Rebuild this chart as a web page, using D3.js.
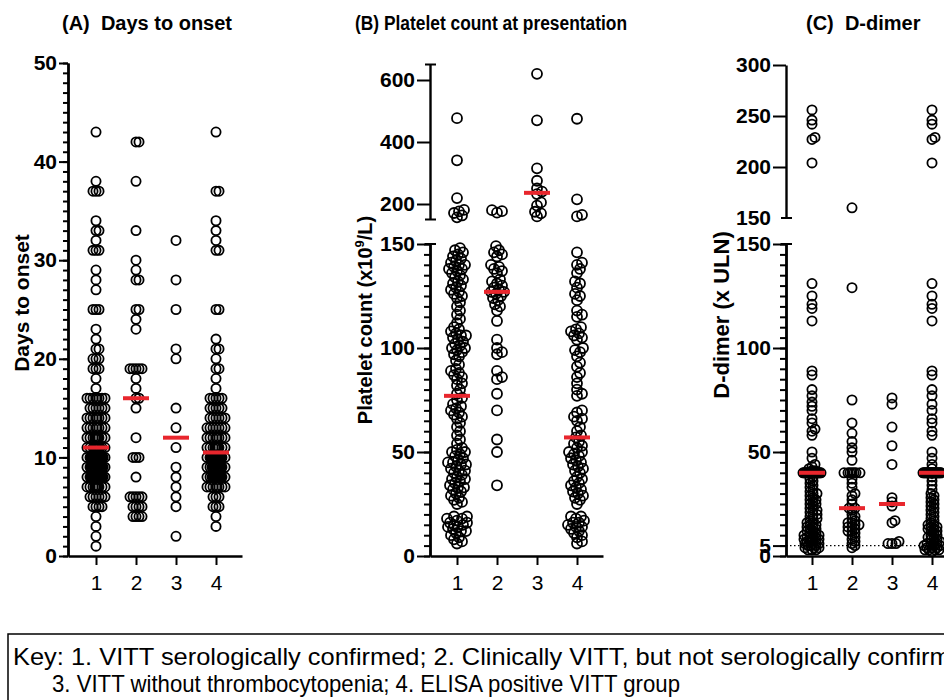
<!DOCTYPE html>
<html>
<head>
<meta charset="utf-8">
<script src="https://cdn.jsdelivr.net/npm/d3@7"></script>
<style>
  body { margin: 0; background: #fff; }
  svg { font-family: "Liberation Sans", Arial, sans-serif; }
  .axis path, .axis line { stroke: #000; }
</style>
</head>
<body>
<svg id="chart" width="944" height="700"></svg>
<script>
var groups = [1, 2, 3, 4];

// (A) days to onset
var onset1 = [43, 38, 37, 37, 37, 34, 33, 33, 32, 31, 31, 31, 29, 28, 27, 25, 25, 25, 23, 22,
  21, 21, 20, 20, 20, 19, 19, 19, 18, 17,
  16, 16, 16, 16, 16, 16, 16, 16, 15, 15, 15, 15, 15, 15, 14, 14, 14, 14, 14, 14, 14, 14,
  13, 13, 13, 13, 13, 13, 13, 13, 12, 12, 12, 12, 12, 12, 12, 12, 12, 12,
  11, 11, 11, 11, 11, 11, 11, 11, 11, 11, 11, 11,
  10, 10, 10, 10, 10, 10, 10, 10, 10, 10, 10, 10, 10, 10, 10, 10,
  9, 9, 9, 9, 9, 9, 9, 9, 9, 9, 9, 9, 9, 9, 9, 9,
  8, 8, 8, 8, 8, 8, 8, 8, 8, 8, 8, 8, 8, 8, 8, 8,
  7, 7, 7, 7, 7, 7, 7, 7, 7, 7, 6, 6, 6, 6, 6, 6, 5, 5, 5, 5, 4, 3, 2, 1];
var onset2 = [42, 42, 38, 33, 30, 29, 28, 28, 25, 25, 24, 23, 19, 19, 19, 19, 19, 18, 17, 16, 16,
  15, 12, 10, 10, 10, 8, 6, 6, 6, 6, 6, 5, 5, 5, 5, 4, 4, 4, 4];
var onset3 = [32, 28, 25, 21, 20, 15, 13, 11, 9, 8, 7, 6, 5, 2];
var onset4 = [43, 37, 37, 34, 33, 32, 31, 31, 25, 25, 22, 21, 21, 20, 19, 19, 18, 17,
  16, 16, 16, 16, 16, 15, 15, 15, 15, 15, 14, 14, 14, 14, 14, 14, 13, 13, 13, 13, 13, 13, 13,
  12, 12, 12, 12, 12, 12, 12, 12, 11, 11, 11, 11, 11, 11, 11, 11, 11, 11,
  10, 10, 10, 10, 10, 10, 10, 10, 10, 10, 10, 10, 10, 10, 10,
  9, 9, 9, 9, 9, 9, 9, 9, 9, 9, 9, 9, 9, 9,
  8, 8, 8, 8, 8, 8, 8, 8, 8, 8, 8, 8, 8, 8,
  7, 7, 7, 7, 7, 7, 7, 7, 6, 6, 6, 5, 5, 5, 4, 3];

// (B) platelet count at presentation, x10^9/L
var plt1 = [477, 341, 219, 181, 176, 171, 163, 157,
  148, 147, 146, 145, 144, 143, 142, 141, 140, 140, 139, 138, 138, 137, 136, 135,
  134, 133, 132, 131, 130, 129, 128, 127, 126, 125, 124, 122, 120, 118, 116, 114, 112, 110,
  109, 108, 107, 106, 106, 105, 104, 103, 102, 101, 100, 100, 99, 98, 97, 96, 94, 92, 90, 89, 88,
  87, 86, 85, 83, 82, 80, 78, 76, 75, 73, 72, 71, 70, 69, 68, 67, 66, 64, 62, 60,
  58, 56, 54, 52, 51, 50, 50, 49, 48, 47, 46, 45, 45, 44, 44, 43,
  42, 41, 41, 40, 39, 38, 37, 37, 36, 35, 34, 33, 33, 32, 31, 30, 29, 28, 27, 26, 25,
  19, 19, 18, 18, 17, 16, 16, 15, 15, 14, 14, 13, 12, 12, 11, 10, 9, 8, 7, 6];
var plt2 = [180, 177, 172, 149, 147, 146, 145, 144, 140, 139, 138, 137, 136, 133, 132, 131, 130,
  129, 128, 127, 127, 126, 125, 124, 123, 121, 120, 118, 113, 104, 100, 98, 97, 89, 86, 85,
  78, 70, 56, 50, 34];
var plt3 = [620, 470, 315, 275, 250, 240, 232, 205, 195, 175, 170, 160];
var plt4 = [475, 215, 165, 160,
  146, 141, 140, 138, 136, 132, 131, 129, 126, 125, 123, 118, 116, 115, 110, 109, 108, 107,
  106, 105, 104, 100, 99, 98, 96, 93, 91, 88, 86, 83, 80, 78, 77, 70, 69, 67, 66, 65, 62, 60, 58,
  57, 55, 54, 53, 52, 50, 50, 49, 48, 47, 46, 45, 44, 43, 42, 41, 40, 38, 37, 36, 35, 34, 33,
  32, 31, 30, 29, 28, 27, 25, 19, 19, 18, 17, 16, 16, 15, 14, 14, 13, 12, 11, 10, 9, 7, 6];

// (C) D-dimer, x ULN
var dd1 = [256, 246, 242, 229, 227, 204,
  131, 125, 121, 119, 113, 89, 87, 80, 77, 74, 72, 70, 66, 64, 61, 60, 58, 50, 47, 44, 43, 42, 41, 41,
  40, 40, 40, 40, 40, 40, 40, 40, 40, 40, 40, 40, 40, 40, 40, 40, 40, 40,
  40, 40, 40, 40, 40, 40, 40, 40, 40, 40, 40, 40, 40, 40, 40, 40, 40, 40,
  38, 37, 36, 35, 34, 33, 32, 31, 30, 30, 29, 28, 27, 27, 26, 25, 25, 24, 23, 22, 22, 21,
  20, 20, 19, 18, 18, 17, 16, 16, 15, 15, 14, 14, 13, 13, 12, 12, 11, 11, 10, 10, 10,
  9, 9, 9, 8, 8, 8, 7, 7, 7, 6, 6, 6, 5, 5, 5, 4, 4, 4, 3, 3, 3];
var dd2 = [160, 129, 75, 64, 59, 55, 52, 50, 46, 40, 40, 40, 40, 40, 40, 40,
  37, 35, 33, 30, 29, 27, 25, 23, 23, 22, 20, 19, 18, 17, 16, 16, 15, 15, 14, 14, 13, 12, 12,
  11, 10, 9, 8, 7, 6, 5, 4];
var dd3 = [76, 73, 62, 53, 44, 28, 26, 24, 17, 16, 7, 6, 6, 6];
var dd4 = [256, 246, 242, 229, 227, 204,
  131, 125, 121, 119, 113, 89, 87, 80, 77, 73, 70, 66, 64, 60, 58, 50, 47, 44, 42,
  40, 40, 40, 40, 40, 40, 40, 40, 40, 40, 40, 40, 40, 40,
  40, 40, 40, 40, 40, 40, 40, 40, 40, 40, 40, 40, 40, 40,
  38, 36, 34, 32, 30, 29, 28, 27, 26, 25, 24, 23, 22, 21, 20, 19, 18, 17, 16, 15, 15,
  14, 14, 13, 13, 12, 12, 11, 10, 10, 9, 9, 8, 8, 7, 7, 6, 6, 6, 5, 5, 5, 4, 4, 4, 3, 3, 3, 3, 2];

var ticksA = [0, 10, 20, 30, 40, 50];
var ticksBUp = [200, 400, 600];
var ticksBLo = [0, 50, 100, 150];
var ticksCUp = [150, 200, 250, 300];
var ticksCLo = [0, 5, 50, 100, 150];

var keyLines = ["Key: 1. VITT serologically confirmed; 2. Clinically VITT, but not serologically confirmed",
  "3. VITT without thrombocytopenia; 4. ELISA positive VITT group"];

var svg = d3.select("#chart");
var base = 556;

// scales
var xA = d3.scaleLinear().domain([0.3, 4.65]).range([68, 242]);
var xB = d3.scaleLinear().domain([0.325, 4.65]).range([430, 603]);
var xC = d3.scaleLinear().domain([0.35, 4.7]).range([786, 960]);

var yA = d3.scaleLinear().domain([0, 50]).range([base, 63]);
var yBUp = d3.scaleLinear().domain([150, 650]).range([219.5, 64.5]);
var yBLo = d3.scaleLinear().domain([0, 150]).range([base, 244]);
var yCUp = d3.scaleLinear().domain([150, 300]).range([218, 65]);
var yCLo = d3.scaleLinear().domain([0, 150]).range([base, 244]);

function yB(v) { return v >= 150 ? yBUp(v) : yBLo(v); }
function yC(v) { return v >= 150 ? yCUp(v) : yCLo(v); }

// Prism-like scatter: spread close points sideways
function swarm(vals, cx, yf, minD, maxOff) {
  var placed = [];
  var offs = [0];
  for (var k = 1; k <= maxOff; k++) offs.push(k, -k);
  vals.slice().sort(d3.ascending).forEach(function(v) {
    var py = yf(v);
    var near = placed.filter(function(p) { return Math.abs(p.y - py) < minD; });
    var best = 0, bestD = -1;
    for (var j = 0; j < offs.length; j++) {
      var md = Infinity;
      near.forEach(function(p) {
        var d = Math.hypot(p.x - cx - offs[j], p.y - py);
        if (d < md) md = d;
      });
      if (md >= minD) { best = offs[j]; break; }
      if (md > bestD) { bestD = md; best = offs[j]; }
    }
    placed.push({ x: cx + best, y: py });
  });
  return placed;
}

function drawDots(sets, x, yf, o) {
  var g = svg.append("g");
  sets.forEach(function(vals, i) {
    var cx = x(groups[i]);
    g.append("g").selectAll("circle")
      .data(swarm(vals, cx, yf, o.minD, o.maxOff))
      .enter().append("circle")
      .attr("cx", function(d) { return d.x; })
      .attr("cy", function(d) { return d.y; })
      .attr("r", o.r)
      .attr("fill", "none")
      .attr("stroke", "#000")
      .attr("stroke-width", 1.8);
  });
  sets.forEach(function(vals, i) {
    var cx = x(groups[i]);
    var m = yf(d3.median(vals));
    g.append("line")
      .attr("x1", cx - 13).attr("x2", cx + 13)
      .attr("y1", m).attr("y2", m)
      .attr("stroke", "#e8262d")
      .attr("stroke-width", 4);
  });
}

function styleAxis(sel, bold) {
  sel.attr("class", "axis");
  sel.select(".domain").attr("stroke-width", 2.4);
  sel.selectAll(".tick line").attr("stroke-width", 2);
  sel.selectAll("text")
    .attr("fill", "#000")
    .style("font-size", "21px")
    .style("font-weight", bold ? "bold" : "normal");
}

function leftAxis(xPos, y, major, minor, majLen, minLen) {
  if (minor) {
    var gm = svg.append("g").attr("transform", "translate(" + xPos + ",0)")
      .call(d3.axisLeft(y).tickValues(minor).tickSize(minLen).tickSizeOuter(0).tickFormat(""));
    styleAxis(gm, true);
  }
  var g = svg.append("g").attr("transform", "translate(" + xPos + ",0)")
    .call(d3.axisLeft(y).tickValues(major).tickSize(majLen).tickPadding(2).tickSizeOuter(0));
  styleAxis(g, true);
  return g;
}

function bottomAxis(x) {
  var g = svg.append("g").attr("transform", "translate(0," + base + ")")
    .call(d3.axisBottom(x).tickValues(groups).tickFormat(d3.format("d"))
      .tickSize(9).tickPadding(10).tickSizeOuter(0));
  styleAxis(g, false);
}

function cap(xPos, y) {
  svg.append("line")
    .attr("x1", xPos - 5).attr("x2", xPos + 6)
    .attr("y1", y).attr("y2", y)
    .attr("stroke", "#000").attr("stroke-width", 2);
}

function title(x, y, txt, len) {
  var t = svg.append("text").attr("x", x).attr("y", y)
    .style("white-space", "pre")
    .style("font-size", "20px").style("font-weight", "bold")
    .text(txt);
  if (len) t.attr("textLength", len).attr("lengthAdjust", "spacingAndGlyphs");
}

function yTitle(x, y, size, parts) {
  var t = svg.append("text")
    .attr("transform", "translate(" + x + "," + y + ") rotate(-90)")
    .attr("text-anchor", "middle")
    .style("font-size", size + "px").style("font-weight", "bold");
  parts.forEach(function(p) {
    var s = t.append("tspan").text(p.t);
    if (p.sup) s.attr("dy", -8).style("font-size", "13px");
    if (p.after) s.attr("dy", 8);
  });
}

// ----- panel A
drawDots([onset1, onset2, onset3, onset4], xA, yA, { minD: 2.5, maxOff: 10, r: 4.6 });
leftAxis(68, yA, ticksA, d3.range(0, 51, 1), 9, 5);
bottomAxis(xA);
title(62, 30, "(A)  Days to onset");
yTitle(29, 303, 21, [{ t: "Days to onset" }]);

// ----- panel B
drawDots([plt1, plt2, plt3, plt4], xB, yB, { minD: 5, maxOff: 10, r: 5 });
leftAxis(430, yBUp, ticksBUp, null, 13, 0);
leftAxis(430, yBLo, ticksBLo, d3.range(0, 151, 5), 13, 6);
cap(430, yBUp(150));
cap(430, yBUp(650));
cap(430, yBLo(150));
bottomAxis(xB);
title(355, 30, "(B) Platelet count at presentation", 272);
yTitle(372, 320, 20, [{ t: "Platelet count (x10" }, { t: "9", sup: true }, { t: "/L)", after: true }]);

// ----- panel C
svg.append("line")
  .attr("x1", 786).attr("x2", 944)
  .attr("y1", yCLo(5)).attr("y2", yCLo(5))
  .attr("stroke", "#000").attr("stroke-width", 1.3)
  .attr("stroke-dasharray", "1.5,2.5");
drawDots([dd1, dd2, dd3, dd4], xC, yC, { minD: 3.5, maxOff: 9, r: 4.6 });
leftAxis(786, yCUp, ticksCUp.slice(1), null, 13, 0);
svg.append("text")
  .attr("x", 771).attr("y", yCUp(150)).attr("dy", "0.32em")
  .attr("text-anchor", "end")
  .style("font-size", "21px").style("font-weight", "bold")
  .text(ticksCUp[0]);
leftAxis(786, yCLo, ticksCLo, d3.range(0, 151, 5), 13, 6);
cap(786, yCUp(150));
cap(786, yCLo(150));
bottomAxis(xC);
title(806, 30, "(C)  D-dimer");
yTitle(729, 315, 22, [{ t: "D-dimer (x ULN)" }]);

// ----- key box
svg.append("rect")
  .attr("x", 8).attr("y", 634).attr("width", 960).attr("height", 90)
  .attr("fill", "none").attr("stroke", "#000").attr("stroke-width", 1.5);
svg.append("text").attr("x", 13).attr("y", 665)
  .style("font-size", "24px")
  .attr("textLength", 966).attr("lengthAdjust", "spacingAndGlyphs")
  .text(keyLines[0]);
svg.append("text").attr("x", 52).attr("y", 692)
  .style("font-size", "24px")
  .attr("textLength", 628).attr("lengthAdjust", "spacingAndGlyphs")
  .text(keyLines[1]);
</script>
</body>
</html>
